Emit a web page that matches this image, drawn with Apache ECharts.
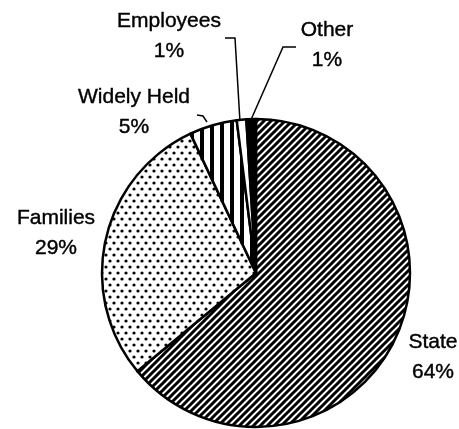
<!DOCTYPE html>
<html>
<head>
<meta charset="utf-8">
<script src="https://cdn.jsdelivr.net/npm/echarts@6/dist/echarts.min.js"></script>
<style>
  html, body { margin: 0; padding: 0; background: #fff; }
  #main { width: 459px; height: 429px; }
</style>
</head>
<body>
<div id="main"></div>
<script>
const owners = ['State', 'Families', 'Widely Held', 'Employees', 'Other'];
const shares = [64, 29, 5, 1, 1];

// where each label block sits, and its leader line (none for the big slices)
const labelSpots = {
  'State': { x: 433, y: 357, line: null },
  'Families': { x: 56, y: 233, line: null },
  'Widely Held': { x: 134, y: 112, line: [[207, 122], [203, 116], [197, 115]] },
  'Employees': { x: 169, y: 36, line: [[240, 122], [235, 38], [225, 38]] },
  'Other': { x: 327, y: 45, line: [[250, 122], [283, 47], [296, 47]] }
};

function makeTile(w, h, draw) {
  const c = document.createElement('canvas');
  c.width = w;
  c.height = h;
  const ctx = c.getContext('2d');
  ctx.fillStyle = '#fff';
  ctx.fillRect(0, 0, w, h);
  ctx.fillStyle = '#000';
  ctx.strokeStyle = '#000';
  draw(ctx);
  return { image: c, repeat: 'repeat' };
}

// diagonal hatch rising to the right
const hatch = makeTile(7, 7, ctx => {
  ctx.lineWidth = 3;
  ctx.beginPath();
  ctx.moveTo(-1, 8); ctx.lineTo(8, -1);
  ctx.moveTo(-1, 1); ctx.lineTo(1, -1);
  ctx.moveTo(6, 8); ctx.lineTo(8, 6);
  ctx.stroke();
});

// staggered dots
const dots = makeTile(8, 12, ctx => {
  [[2, 3], [6, 9]].forEach(p => {
    ctx.beginPath();
    ctx.arc(p[0], p[1], 1.6, 0, Math.PI * 2);
    ctx.fill();
  });
});

// vertical bars
const bars = makeTile(10, 4, ctx => {
  ctx.fillRect(0, 0, 4, 4);
});

const fills = {
  'State': hatch,
  'Families': dots,
  'Widely Held': bars,
  'Employees': '#fff',
  'Other': '#000'
};

const chart = echarts.init(document.getElementById('main'));

const option = {
  animation: false,
  series: [{
    type: 'pie',
    center: [256, 273],
    radius: 154,
    startAngle: 90,
    clockwise: true,
    avoidLabelOverlap: false,
    itemStyle: { borderColor: '#000', borderWidth: 2.5 },
    label: {
      show: true,
      formatter: p => p.name + '\n' + p.value + '%',
      fontFamily: 'Liberation Sans, Arial, sans-serif',
      fontSize: 21,
      lineHeight: 30,
      color: '#000',
      textBorderColor: '#000',
      textBorderWidth: 0.4,
      align: 'center'
    },
    labelLine: { show: true, lineStyle: { color: '#000', width: 1.5 } },
    labelLayout: params => {
      const s = labelSpots[owners[params.dataIndex]];
      const out = { x: s.x, y: s.y, align: 'center', verticalAlign: 'middle' };
      if (s.line) out.labelLinePoints = s.line;
      return out;
    },
    emphasis: { disabled: true },
    data: owners.map((name, i) => ({
      name: name,
      value: shares[i],
      itemStyle: { color: fills[name] },
      labelLine: { show: !!labelSpots[name].line }
    }))
  }]
};

chart.setOption(option);
window.addEventListener('resize', () => chart.resize());
</script>
</body>
</html>
